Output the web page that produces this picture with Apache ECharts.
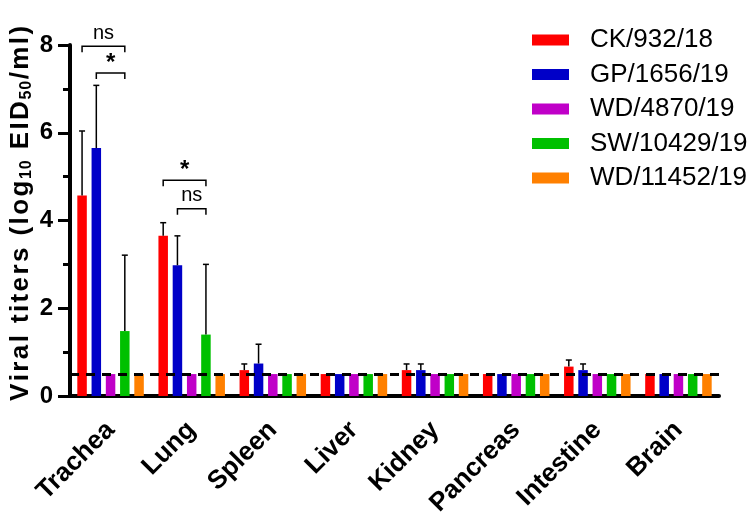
<!DOCTYPE html>
<html>
<head>
<meta charset="utf-8">
<script src="https://cdn.jsdelivr.net/npm/echarts@6/dist/echarts.min.js"></script>
<style>
  html, body { margin: 0; padding: 0; background: #fff; }
  #chart { width: 750px; height: 516px; }
</style>
</head>
<body>
<div id="chart"></div>
<script>
const organs = ['Trachea', 'Lung', 'Spleen', 'Liver', 'Kidney', 'Pancreas', 'Intestine', 'Brain'];
const strains = ['CK/932/18', 'GP/1656/19', 'WD/4870/19', 'SW/10429/19', 'WD/11452/19'];
const colors = ['#ff0000', '#0000c8', '#c000c8', '#00c000', '#ff8000'];

// mean titers per organ
const ck932 = [4.57, 3.65, 0.59, 0.5, 0.59, 0.5, 0.67, 0.5];
const gp1656 = [5.65, 2.98, 0.74, 0.5, 0.59, 0.5, 0.59, 0.5];
const wd4870 = [0.5, 0.5, 0.5, 0.5, 0.5, 0.5, 0.5, 0.5];
const sw10429 = [1.48, 1.40, 0.5, 0.5, 0.5, 0.5, 0.5, 0.5];
const wd11452 = [0.5, 0.5, 0.5, 0.5, 0.5, 0.5, 0.5, 0.5];

// top of error bar (mean + SD), null = no bar
const ck932Err = [6.04, 3.95, 0.73, null, 0.73, null, 0.82, null];
const gp1656Err = [7.08, 3.65, 1.18, null, 0.73, null, 0.73, null];
const wd4870Err = [null, null, null, null, null, null, null, null];
const sw10429Err = [3.21, 3.00, null, null, null, null, null, null];
const wd11452Err = [null, null, null, null, null, null, null, null];

const detectionLimit = 0.5;

// significance brackets: [organ index, from strain, to strain, height]
const brackets = [[0, 0, 3, 7.97], [0, 1, 3, 7.36], [1, 0, 3, 4.92], [1, 1, 3, 4.27]];
const bracketLabels = ['ns', '*', '*', 'ns'];

const means = [ck932, gp1656, wd4870, sw10429, wd11452];
const errs = [ck932Err, gp1656Err, wd4870Err, sw10429Err, wd11452Err];

const BAR_W = 9.5;
const BAR_STEP = 14.25;

// y title, letter spaced; s = subscript
const yTitleParts = [['Viral titers (log', 'a'], ['10', 's'], [' EID', 'a'], ['50', 's'], ['/ml)', 'a']];
let yTitle = '{pad|}';
yTitleParts.forEach(p => {
  p[0].split('').forEach(ch => { yTitle += '{' + p[1] + '|' + ch + '}'; });
});

const chart = echarts.init(document.getElementById('chart'));

let series = [];
strains.forEach((name, i) => {
  series.push({
    name: name,
    type: 'bar',
    barWidth: BAR_W,
    barGap: '50%',
    itemStyle: { color: colors[i] },
    data: means[i]
  });
});

strains.forEach((name, i) => {
  let data = [];
  errs[i].forEach((u, k) => {
    if (u != null) data.push([k, means[i][k], u]);
  });
  series.push({
    type: 'custom',
    z: 4,
    silent: true,
    encode: { x: 0, y: [1, 2] },
    renderItem: function (params, api) {
      const base = api.coord([api.value(0), api.value(1)]);
      const top = api.coord([api.value(0), api.value(2)]);
      const x = base[0] + (i - 2) * BAR_STEP;
      const st = { stroke: '#000', lineWidth: 1.5 };
      return {
        type: 'group',
        children: [
          { type: 'line', shape: { x1: x, y1: base[1], x2: x, y2: top[1] }, style: st },
          { type: 'line', shape: { x1: x - 3, y1: top[1], x2: x + 3, y2: top[1] }, style: st }
        ]
      };
    },
    data: data
  });
});

series.push({
  type: 'custom',
  z: 5,
  silent: true,
  clip: false,
  encode: { x: 0, y: 3 },
  renderItem: function (params, api) {
    const c = api.coord([api.value(0), api.value(3)]);
    const x1 = c[0] + (api.value(1) - 2) * BAR_STEP;
    const x2 = c[0] + (api.value(2) - 2) * BAR_STEP;
    const y = c[1];
    const label = bracketLabels[params.dataIndex];
    const st = { stroke: '#000', lineWidth: 1.5, fill: null };
    return {
      type: 'group',
      children: [
        { type: 'polyline', shape: { points: [[x1, y + 6], [x1, y], [x2, y], [x2, y + 6]] }, style: st },
        {
          type: 'text',
          x: (x1 + x2) / 2,
          y: label === '*' ? y + 2 : y - 3,
          style: {
            text: label,
            fill: '#000',
            fontSize: label === '*' ? 24 : 20,
            fontWeight: label === '*' ? 'bold' : 'normal',
            fontFamily: 'Liberation Sans',
            align: 'center',
            verticalAlign: 'bottom'
          }
        }
      ]
    };
  },
  data: brackets
});

series.push({
  type: 'line',
  data: [],
  z: 6,
  markLine: {
    silent: true,
    symbol: 'none',
    label: { show: false },
    lineStyle: { color: '#000', width: 3, type: [9, 7] },
    data: [{ yAxis: detectionLimit }]
  }
});

const option = {
  animation: false,
  grid: {
    left: 70, right: 31, top: 45, bottom: 120,
    outerBounds: { left: -60, top: -60, right: -60, bottom: -60 }
  },
  legend: {
    data: strains,
    orient: 'vertical',
    left: 527,
    top: 22,
    icon: 'rect',
    itemWidth: 37,
    itemHeight: 11,
    itemGap: 8.5,
    textStyle: {
      fontSize: 26,
      lineHeight: 26,
      fontFamily: 'Liberation Sans',
      color: '#000',
      padding: [0, 0, 0, 16]
    }
  },
  xAxis: {
    type: 'category',
    data: organs,
    axisLine: { lineStyle: { color: '#000', width: 4 } },
    axisTick: { alignWithLabel: true, length: 13, lineStyle: { width: 4 } },
    axisLabel: {
      rotate: 45,
      margin: 30,
      fontSize: 26,
      fontWeight: 'bold',
      fontFamily: 'Liberation Sans',
      color: '#000'
    }
  },
  yAxis: {
    type: 'value',
    min: 0,
    max: 8,
    interval: 2,
    name: yTitle,
    nameLocation: 'middle',
    nameRotate: 90,
    nameGap: 34,
    nameMoveOverlap: false,
    nameTextStyle: {
      rich: {
        pad: { padding: [0, 0, 0, 14] },
        a: { fontSize: 26, fontWeight: 'bold', fontFamily: 'Liberation Sans', color: '#000', lineHeight: 30, padding: [0, 1.2, 0, 1.2] },
        s: { fontSize: 16, fontWeight: 'bold', fontFamily: 'Liberation Sans', color: '#000', padding: [12, 0.4, 0, 0.4] }
      }
    },
    axisLine: { show: true, lineStyle: { color: '#000', width: 4 } },
    axisTick: { show: true, length: 12, lineStyle: { width: 3 } },
    minorTick: { show: true, splitNumber: 2, length: 7, lineStyle: { color: '#000', width: 3 } },
    splitLine: { show: false },
    axisLabel: {
      margin: 17,
      fontSize: 24,
      fontWeight: 'bold',
      fontFamily: 'Liberation Sans',
      color: '#000'
    }
  },
  series: series
};

chart.setOption(option);
</script>
</body>
</html>
